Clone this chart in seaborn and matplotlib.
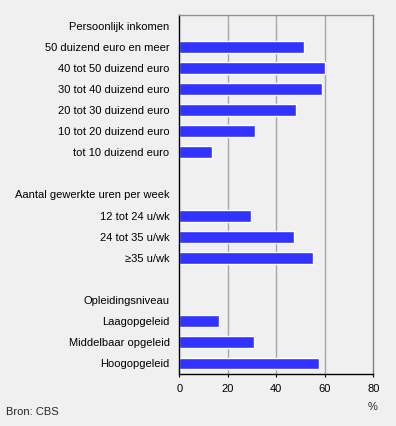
import pandas as pd
import matplotlib.pyplot as plt
import seaborn as sns

# Rows from top to bottom (headers and blank rows have no bar)
row_order = ['Persoonlijk inkomen', '50 duizend euro en meer', '40 tot 50 duizend euro',
             '30 tot 40 duizend euro', '20 tot 30 duizend euro', '10 tot 20 duizend euro',
             'tot 10 duizend euro', ' ', 'Aantal gewerkte uren per week', '12 tot 24 u/wk',
             '24 tot 35 u/wk', '≥35 u/wk', '  ', 'Opleidingsniveau', 'Laagopgeleid',
             'Middelbaar opgeleid', 'Hoogopgeleid']

categories = ['50 duizend euro en meer', '40 tot 50 duizend euro', '30 tot 40 duizend euro',
              '20 tot 30 duizend euro', '10 tot 20 duizend euro', 'tot 10 duizend euro',
              '12 tot 24 u/wk', '24 tot 35 u/wk', '≥35 u/wk',
              'Laagopgeleid', 'Middelbaar opgeleid', 'Hoogopgeleid']
values = [51.4, 60.1, 58.8, 48.1, 31.2, 13.5, 29.6, 47.3, 55.1, 16.4, 30.8, 57.6]

xticks = [0, 20, 40, 60, 80]

df = pd.DataFrame({'cat': categories, 'pct': values})

sns.set_style('white')
plt.rcParams['font.family'] = ['Liberation Sans', 'DejaVu Sans']

bg = '#f0f0f0'
fig = plt.figure(figsize=(3.96, 4.26), dpi=100, facecolor=bg)
ax = fig.add_axes([0.4528, 0.1221, 0.4899, 0.8427])
ax.set_facecolor(bg)

sns.barplot(data=df, x='pct', y='cat', order=row_order, color='#3333ff',
            saturation=1, width=0.56, orient='h', ax=ax)

ax.set_xlim(0, 80)
ax.set_ylim(len(row_order) - 0.5, -0.5)
ax.set_xticks(xticks)
ax.set_xticklabels([str(t) for t in xticks])
ax.set_xlabel('')
ax.set_ylabel('')

# gridlines at 20, 40, 60
for t in xticks[1:-1]:
    ax.axvline(t, color='#a6a6a6', lw=1, zorder=0)

ax.spines['left'].set_color('black')
ax.spines['bottom'].set_color('black')
ax.spines['top'].set_color('#909090')
ax.spines['right'].set_color('#808080')
for s in ax.spines.values():
    s.set_linewidth(1)

ax.tick_params(axis='y', length=0, pad=7, labelsize=8, colors='black')
ax.tick_params(axis='x', direction='out', length=2.5, width=0.8, pad=4.5,
               labelsize=8, colors='black', bottom=True)

fig.text(373 / 396, 1 - 407 / 426, '%', ha='center', va='center', fontsize=8)
fig.text(6 / 396, 1 - 412 / 426, 'Bron: CBS', ha='left', va='center', fontsize=8)

fig.savefig('out.png', dpi=100, facecolor=bg)
